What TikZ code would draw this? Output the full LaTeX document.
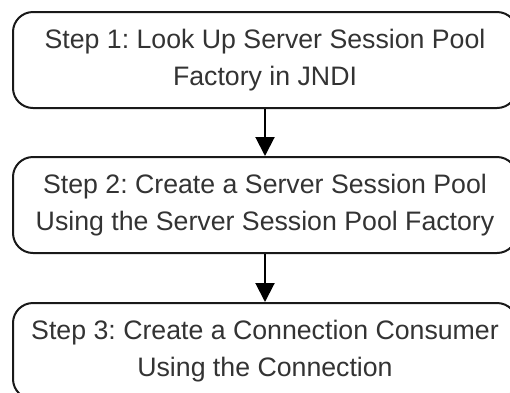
\documentclass[tikz,border=0pt]{standalone}
\usepackage{fontspec}
\setmainfont{Liberation Sans}
\usetikzlibrary{arrows.meta}
\frenchspacing
\begin{document}
\begin{tikzpicture}[x=1pt,y=-1pt,
  stepbox/.style={draw=black!90, line width=2pt, rounded corners=20pt,
    minimum width=504pt, minimum height=96pt, align=center, inner sep=0pt,
    text=black!80, font=\fontsize{26.7}{37.5}\selectfont},
  flow/.style={draw=black, line width=2pt, -{Triangle[width=19pt,length=19pt]}}]
\useasboundingbox (0,0) rectangle (510,392);
\node[stepbox] (s1) at (265,60) {Step 1: Look Up Server Session Pool\\Factory in JNDI};
\node[stepbox] (s2) at (265,205) {Step 2: Create a Server Session Pool\\Using the Server Session Pool Factory};
\node[stepbox] (s3) at (265,351) {Step 3: Create a Connection Consumer\\Using the Connection};
\draw[flow] (s1) -- (s2);
\draw[flow] (s2) -- (s3);
\end{tikzpicture}
\end{document}
